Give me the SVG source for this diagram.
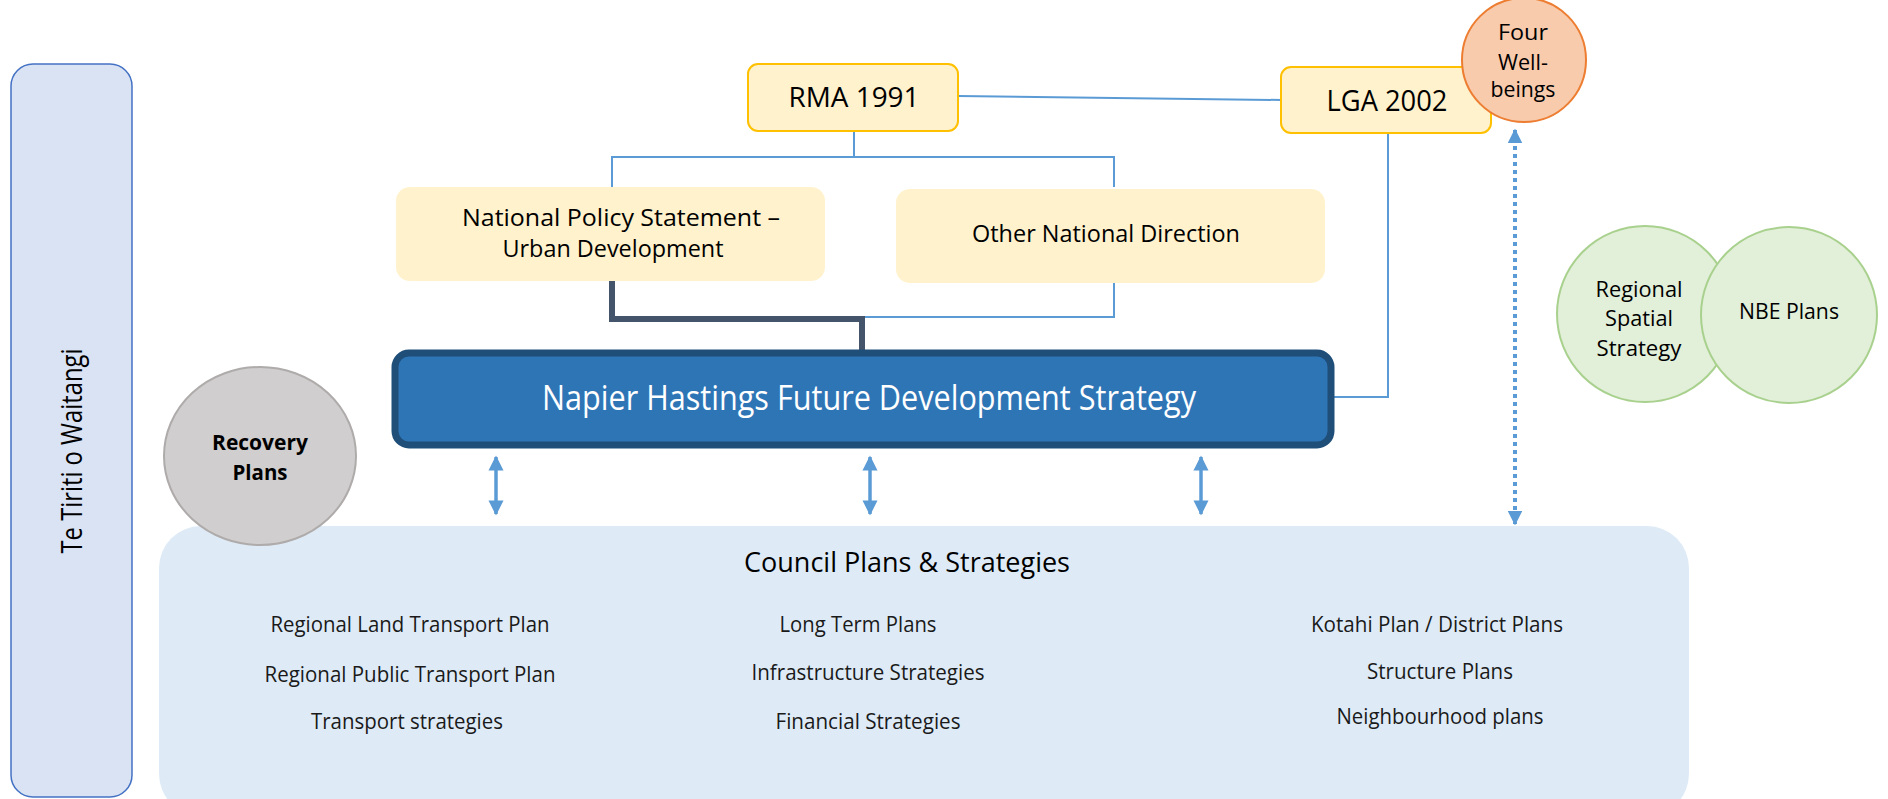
<svg xmlns="http://www.w3.org/2000/svg" width="1888" height="799" viewBox="0 0 1888 799">
<defs>
<style>
text{font-family:"Open Sans","Liberation Sans",sans-serif;fill:#000;text-anchor:middle}
.yel{fill:#fff2cc}
.conn{fill:none;stroke:#5b9bd5;stroke-width:2}
.dark{fill:none;stroke:#44546a;stroke-width:6}
.dbl{stroke:#5b9bd5;stroke-width:3.5;fill:none}
.item{font-size:22px;fill:#1a1a1a}
</style>
<marker id="ah" viewBox="0 0 10 10" refX="9" refY="5" markerWidth="4.3" markerHeight="4.3" orient="auto-start-reverse" markerUnits="strokeWidth">
<path d="M0,0 L10,5 L0,10 z" fill="#5b9bd5"/>
</marker>
<marker id="ah2" viewBox="0 0 10 10" refX="9" refY="5" markerWidth="3.6" markerHeight="3.6" orient="auto-start-reverse" markerUnits="strokeWidth">
<path d="M0,0 L10,5 L0,10 z" fill="#5b9bd5"/>
</marker>
</defs>
<rect width="1888" height="799" fill="#fff"/>

<g id="council">
<rect x="159" y="526" width="1530" height="290" rx="42" fill="#deebf7"/>
<text x="907" y="572" font-size="27" textLength="326" lengthAdjust="spacingAndGlyphs">Council Plans &amp; Strategies</text>
<text class="item" x="410" y="632" textLength="279" lengthAdjust="spacingAndGlyphs">Regional Land Transport Plan</text>
<text class="item" x="410" y="682" textLength="291" lengthAdjust="spacingAndGlyphs">Regional Public Transport Plan</text>
<text class="item" x="407" y="729" textLength="192" lengthAdjust="spacingAndGlyphs">Transport strategies</text>
<text class="item" x="858" y="632" textLength="157" lengthAdjust="spacingAndGlyphs">Long Term Plans</text>
<text class="item" x="868" y="680" textLength="233" lengthAdjust="spacingAndGlyphs">Infrastructure Strategies</text>
<text class="item" x="868" y="729" textLength="185" lengthAdjust="spacingAndGlyphs">Financial Strategies</text>
<text class="item" x="1437" y="632" textLength="252" lengthAdjust="spacingAndGlyphs">Kotahi Plan / District Plans</text>
<text class="item" x="1440" y="679" textLength="146" lengthAdjust="spacingAndGlyphs">Structure Plans</text>
<text class="item" x="1440" y="724" textLength="207" lengthAdjust="spacingAndGlyphs">Neighbourhood plans</text>
</g>

<g id="te-tiriti">
<rect x="11" y="64" width="121" height="733" rx="22" fill="#dae3f3" stroke="#4472c4" stroke-width="1.5"/>
<text x="0" y="0" font-size="29" transform="translate(82,451) rotate(-90)" textLength="205" lengthAdjust="spacingAndGlyphs">Te Tiriti o Waitangi</text>
</g>

<g id="connectors">
<path class="conn" d="M958,96 L1281,100"/>
<path class="conn" d="M854,131 V157 M612,187 V157 H1114 V187"/>
<path class="conn" d="M1114,283 V317 H862"/>
<path class="dark" d="M612,281 V319 H862 V353"/>
<path class="conn" d="M1388,134 V397 H1332"/>
<line class="dbl" x1="496" y1="457" x2="496" y2="514" marker-start="url(#ah)" marker-end="url(#ah)"/>
<line class="dbl" x1="870" y1="457" x2="870" y2="514" marker-start="url(#ah)" marker-end="url(#ah)"/>
<line class="dbl" x1="1201" y1="457" x2="1201" y2="514" marker-start="url(#ah)" marker-end="url(#ah)"/>
<line x1="1515" y1="130" x2="1515" y2="524" stroke="#5b9bd5" stroke-width="4" stroke-dasharray="4 4" marker-start="url(#ah2)" marker-end="url(#ah2)"/>
</g>

<g id="rma">
<rect x="748" y="64" width="210" height="67" rx="10" class="yel" stroke="#ffc000" stroke-width="2"/>
<text x="854" y="107" font-size="28" textLength="131" lengthAdjust="spacingAndGlyphs">RMA 1991</text>
</g>

<g id="lga">
<rect x="1281" y="67" width="210" height="66" rx="10" class="yel" stroke="#ffc000" stroke-width="2"/>
<text x="1387" y="111" font-size="30" textLength="121" lengthAdjust="spacingAndGlyphs">LGA 2002</text>
</g>

<g id="four-wellbeings">
<circle cx="1524" cy="60" r="62" fill="#f8cbad" stroke="#ed7d31" stroke-width="2"/>
<text x="1523" y="40" font-size="22" textLength="50" lengthAdjust="spacingAndGlyphs">Four</text>
<text x="1523" y="70" font-size="22" textLength="50" lengthAdjust="spacingAndGlyphs">Well-</text>
<text x="1523" y="97" font-size="22" textLength="65" lengthAdjust="spacingAndGlyphs">beings</text>
</g>

<g id="nps">
<rect x="396" y="187" width="429" height="94" rx="14" class="yel"/>
<text x="621" y="226" font-size="24" textLength="318" lengthAdjust="spacingAndGlyphs">National Policy Statement –</text>
<text x="613" y="257" font-size="24" textLength="221" lengthAdjust="spacingAndGlyphs">Urban Development</text>
</g>

<g id="other-national">
<rect x="896" y="189" width="429" height="94" rx="14" class="yel"/>
<text x="1106" y="242" font-size="24" textLength="268" lengthAdjust="spacingAndGlyphs">Other National Direction</text>
</g>

<g id="nhfds">
<rect x="395" y="353" width="936" height="92" rx="14" fill="#2e75b6" stroke="#1f4e79" stroke-width="7"/>
<text x="869" y="410" font-size="34" style="fill:#fff" textLength="654" lengthAdjust="spacingAndGlyphs">Napier Hastings Future Development Strategy</text>
</g>

<g id="recovery">
<ellipse cx="260" cy="456" rx="96" ry="89" fill="#d0cece" stroke="#afabab" stroke-width="2"/>
<text x="260" y="450" font-size="22" font-weight="bold" textLength="96" lengthAdjust="spacingAndGlyphs">Recovery</text>
<text x="260" y="480" font-size="22" font-weight="bold" textLength="55" lengthAdjust="spacingAndGlyphs">Plans</text>
</g>

<g id="regional-spatial">
<circle cx="1645" cy="314" r="88" fill="#e2efd9" stroke="#a9d18e" stroke-width="2"/>
<text x="1639" y="297" font-size="22" textLength="87" lengthAdjust="spacingAndGlyphs">Regional</text>
<text x="1639" y="326" font-size="22" textLength="68" lengthAdjust="spacingAndGlyphs">Spatial</text>
<text x="1639" y="356" font-size="22" textLength="85" lengthAdjust="spacingAndGlyphs">Strategy</text>
</g>

<g id="nbe">
<circle cx="1789" cy="315" r="88" fill="#e2efd9" stroke="#a9d18e" stroke-width="2"/>
<text x="1789" y="319" font-size="22" textLength="100" lengthAdjust="spacingAndGlyphs">NBE Plans</text>
</g>
</svg>
